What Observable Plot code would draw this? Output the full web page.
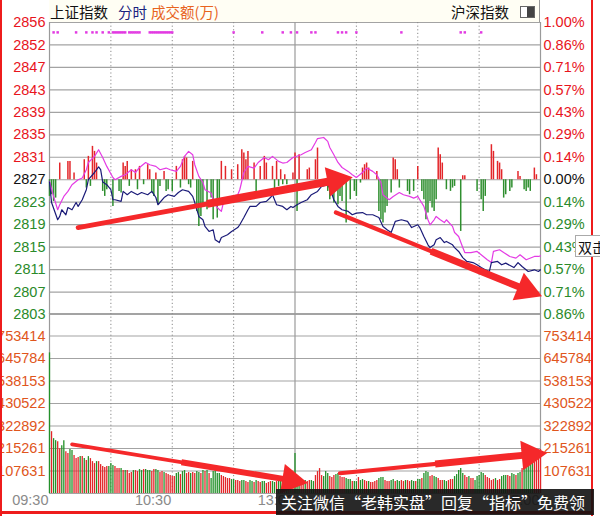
<!DOCTYPE html>
<html><head><meta charset="utf-8">
<script src="https://cdn.jsdelivr.net/npm/d3@7"></script>
<script src="https://cdn.jsdelivr.net/npm/@observablehq/plot@0.6"></script>
<style>
html,body{margin:0;padding:0;background:#fff;}
#wrap{position:relative;width:600px;height:516px;overflow:hidden;background:#fff;font-family:"Liberation Sans",Arial,sans-serif;}
#wrap svg{position:absolute;left:0;overflow:visible;}
.hd{position:absolute;top:3px;font:14.5px "Noto Sans CJK SC",sans-serif;line-height:18px;white-space:nowrap;}
</style></head><body><div id="wrap"></div>
<script>
// ---------- data ----------
const prevClose = 2827;
const stepPts = 4.04;
const priceTickLabels = ["2803","2807","2811","2815","2819","2823","2827","2831","2835","2839","2843","2847","2852","2856"];
const pctTickLabels = ["0.86%","0.71%","0.57%","0.43%","0.29%","0.14%","0.00%","0.14%","0.29%","0.43%","0.57%","0.71%","0.86%","1.00%"];
const volStep = 107631;
const volTickLabels = ["107631","215261","322892","430522","538153","645784","753414"];
const timeTickMinutes = [0, 60, 120, 180, 240];
const timeTickLabels = ["09:30", "10:30", "13:00", "14:00", "15:00"];
const dottedMinutes = [30, 60, 90, 150, 180, 210];
const solidMinutes = [0, 120, 240];

const blueMinutes = [0,1,4,5,6,8,9,11,13,14,16,18,19,22,24,25,26,28,30,31,32,35,36,38,40,43,45,48,50,52,53,56,58,61,63,65,68,70,71,73,75,76,78,80,81,83,84,87,89,92,93,95,97,98,101,103,106,108,109,111,114,116,118,119,121,123,126,128,131,133,136,137,139,141,143,146,148,150,153,155,158,161,163,165,167,169,172,175,177,180,181,183,185,186,188,189,191,193,194,197,198,200,202,204,207,209,211,213,215,216,219,221,223,227,229,231,234,237,239,240];
const blueValues = [2826.6,2822.9,2819.8,2820.4,2821.6,2820.7,2822.0,2821.6,2822.9,2822.2,2823.4,2825.2,2827.0,2828.3,2829.3,2828.8,2826.6,2826.1,2825.2,2823.4,2823.4,2823.1,2824.9,2824.3,2824.9,2824.3,2824.7,2824.3,2824.9,2823.8,2822.5,2823.8,2824.3,2824.0,2824.7,2825.2,2824.9,2824.0,2822.9,2820.4,2819.8,2818.6,2817.7,2818.0,2816.2,2815.7,2816.6,2817.1,2817.7,2818.4,2818.9,2820.2,2821.6,2822.2,2822.2,2822.9,2823.1,2823.8,2824.3,2822.5,2822.2,2821.6,2822.2,2822.0,2822.5,2822.9,2823.4,2824.3,2824.9,2825.8,2826.1,2825.5,2823.4,2822.2,2821.6,2821.3,2820.7,2821.0,2821.1,2820.7,2820.7,2820.2,2818.6,2818.0,2817.5,2819.5,2819.8,2819.5,2818.4,2818.9,2818.4,2816.8,2815.3,2814.8,2815.3,2816.2,2816.6,2815.7,2815.9,2815.3,2814.8,2814.1,2813.0,2812.3,2812.1,2811.7,2811.2,2810.8,2810.5,2812.1,2812.3,2811.7,2812.0,2811.2,2812.1,2811.4,2810.5,2810.8,2810.5,2810.8];

const magentaMinutes = [0,2,4,5,7,9,11,14,16,18,19,22,24,26,28,31,32,35,37,40,42,44,47,49,52,54,57,59,62,64,66,68,70,71,73,75,76,79,80,82,84,85,87,89,92,93,95,97,100,102,105,107,109,112,114,116,119,123,125,128,130,131,134,136,137,139,141,143,146,148,150,153,155,158,160,162,163,166,168,171,173,176,178,180,181,183,185,186,188,189,191,193,194,197,198,200,202,203,206,209,211,214,216,217,220,222,225,228,230,233,237,239,240];
const magentaValues = [2826.7,2824.0,2821.6,2822.5,2824.0,2824.9,2826.1,2827.0,2827.3,2828.8,2830.1,2831.2,2832.4,2831.0,2829.4,2827.4,2827.0,2827.6,2827.9,2828.8,2828.3,2829.2,2830.1,2829.7,2829.4,2828.8,2829.1,2828.8,2828.5,2829.4,2831.2,2832.1,2831.5,2829.7,2827.6,2826.5,2825.2,2824.6,2823.4,2822.0,2821.3,2822.9,2823.4,2824.0,2824.3,2825.2,2828.3,2829.4,2829.1,2830.1,2831.0,2830.6,2831.2,2830.3,2830.0,2830.1,2831.0,2831.5,2831.9,2832.4,2833.7,2834.4,2834.6,2833.9,2832.8,2831.5,2830.1,2829.2,2828.5,2827.9,2827.4,2828.3,2829.1,2828.5,2827.9,2826.5,2824.3,2823.4,2824.0,2824.7,2824.3,2824.0,2823.7,2824.0,2823.4,2822.2,2819.8,2818.9,2819.8,2820.4,2819.8,2819.3,2819.8,2818.6,2817.5,2816.8,2814.8,2813.9,2813.9,2814.1,2813.5,2812.6,2812.1,2814.1,2814.4,2813.9,2813.2,2812.9,2813.5,2812.6,2813.2,2813.2,2813.3];

const barMinutes = [0,1,2,3,5,9,10,12,17,18,19,20,21,22,23,26,27,28,31,34,35,36,37,38,39,40,42,43,44,46,48,49,50,51,52,53,54,56,57,58,60,62,64,65,66,67,68,69,70,72,73,74,75,77,79,80,82,83,84,86,89,92,94,95,96,97,100,101,103,105,106,109,110,111,112,113,114,115,116,119,120,121,122,126,127,130,131,136,137,139,141,142,143,145,147,149,150,152,153,154,155,156,160,161,162,163,164,165,167,168,169,170,171,175,176,178,180,182,183,184,185,186,187,188,189,190,191,192,194,196,197,198,201,202,203,209,211,212,213,216,217,219,220,221,222,223,225,226,229,230,232,233,234,235,237,238];
const barValues = [-3.0,-2.7,-3.9,-3.3,3.0,3.3,3.3,1.2,3.6,-1.5,4.2,-1.2,6.0,5.1,3.0,-2.1,-3.0,-1.8,-4.8,-2.1,-2.4,3.0,2.4,3.3,-1.2,1.8,1.8,-1.8,2.4,-0.9,2.7,1.8,-2.4,-3.0,1.2,-4.5,-1.2,1.5,-2.1,-1.8,-2.1,2.4,-1.5,3.6,4.2,3.9,-0.9,-1.5,3.3,-5.7,-8.4,-6.6,-4.5,-5.4,-3.3,-7.2,-6.9,-3.6,3.3,2.4,1.8,2.7,5.4,4.8,3.6,5.1,3.0,-2.1,2.4,4.2,3.0,2.4,-2.1,3.3,-1.2,1.8,-0.9,0.9,-0.9,1.2,4.8,-5.7,4.5,1.8,2.1,3.6,5.7,-2.1,-3.6,-4.2,-4.5,-3.0,-3.9,-7.8,-3.6,-2.1,-3.0,-0.6,2.1,2.7,3.0,2.1,1.5,-5.7,-7.2,-7.8,-6.0,-4.8,-2.4,3.9,3.6,1.8,-1.5,-2.1,-2.7,-2.1,2.4,-2.1,-3.6,-7.2,-6.0,-3.9,-5.1,-5.7,-3.6,5.7,4.5,3.0,-1.8,-2.1,-1.5,-1.2,-9.3,0.7,0.7,-2.1,-3.6,-5.7,-3.0,6.3,5.1,3.3,3.0,1.8,-3.3,-2.7,-2.1,-1.5,1.5,0.6,-1.8,-2.1,-1.5,-2.1,2.1,0.9];

const markerMinutes = [2,4,13,18,21,23,26,29,31,32,33,34,35,36,37,39,40,41,42,43,44,49,50,51,52,53,54,55,56,57,58,59,60,90,104,114,118,121,128,130,141,143,145,150,172,201,203,211];
const markerLevel = 2853.5;

const volumes = [672600,295700,262400,252800,248000,214600,229000,252800,200300,190800,
209900,205100,181300,166900,171700,176500,176500,166900,157400,176500,
166900,152600,143100,152600,152600,138300,128800,124000,128800,128800,
143100,133600,128800,119200,119200,119200,109700,109700,109700,95400,
100200,109700,109700,104900,114500,109700,114500,114500,109700,109700,
104900,114500,114500,109700,100200,104900,100200,95400,90600,85900,
81100,81100,95400,100200,90600,104900,109700,95400,100200,95400,
100200,95400,104900,100200,95400,109700,104900,109700,95400,71500,
104900,109700,95400,95400,85900,81100,76300,71500,71500,66800,
66800,62000,62000,57200,62000,62000,57200,52500,62000,57200,
52500,62000,57200,52500,57200,57200,47700,52500,57200,57200,
52500,57200,62000,62000,57200,52500,71500,57200,57200,62000,
190800,66800,71500,57200,57200,62000,57200,62000,62000,57200,
85900,104900,119200,85900,81100,104900,95400,81100,76300,85900,
90600,95400,81100,76300,76300,71500,66800,66800,57200,57200,
57200,76300,62000,66800,62000,57200,57200,52500,52500,57200,
62000,71500,76300,76300,62000,57200,57200,62000,66800,57200,
62000,57200,62000,57200,62000,62000,57200,62000,57200,57200,
66800,66800,71500,95400,104900,100200,81100,85900,81100,76300,
71500,62000,62000,62000,57200,62000,66800,66800,81100,90600,
109700,119200,95400,85900,76300,81100,71500,71500,62000,81100,
85900,100200,95400,85900,76300,71500,62000,66800,71500,62000,
66800,81100,85900,85900,85900,81100,95400,90600,85900,95400,
100200,119200,128800,133600,143100,152600,162200,181300,190800,200300,
209900];
const volumeUpDown = "grggrrggrr" + "ggrrrgrgrg" + "rrrgrrrrrg" + "ggrrrgrgrr" + "rgrrggrggg" +
  "rrggrrgrrr" + "rrggrggrrg" + "rrggrgrgrg" + "ggggrrrrrg" + "grrrggrrgg" +
  "rgrrggrrrg" + "grggrrgrgr" + "gggrrgrrgg" + "rrrrgggrrr" + "ggrrrgggrg" +
  "grggrrgrrr" + "rgggrrrggr" + "ggrrgrrggr" + "ggrgggrrgg" + "rrrggrrrgg" +
  "gggrrgrrgg" + "gggrrrrrgr" + "rgggrrggrg" + "grgggggrrr" + "r";

// hand-drawn annotation arrows: [start minute, start value, end minute, end value]
const priceArrowStartMinutes = [14, 140];
const priceArrowStartValues = [2818.4, 2821.1];
const priceArrowEndMinutes = [140, 233];
const priceArrowEndValues = [2826.9, 2807.2];
const volArrowStartMinutes = [11, 142];
const volArrowStartValues = [235000, 97000];
const volArrowEndMinutes = [118, 235];
const volArrowEndValues = [64000, 186000];

// ---------- styles ----------
const RED = "#e8141c", GREEN = "#2a8a2a", BLACK = "#111", ORANGE = "#e0561c";
const ARROW = "#f5282a";
const FONT = '"Liberation Sans", Arial, sans-serif';
const W = 600, ML = 49, MR = 60;
const PRICE_TOP = 22, PRICE_H = 314;
const VOL_TOP = 313, VOL_H = 203, VOL_MB = 23;

const wrap = document.getElementById("wrap");

const xDomain = [0, 240];
const yDomain = [prevClose - 6 * stepPts, prevClose + 7 * stepPts];
const vDomain = [0, 8 * volStep];

const priceTicks = priceTickLabels.map((t, i) => ({k: i - 6, v: prevClose + (i - 6) * stepPts, left: t, right: pctTickLabels[i]}));
const signColor = k => k > 0 ? RED : k < 0 ? GREEN : BLACK;
const blue = blueMinutes.map((m, i) => ({m, v: blueValues[i]}));
const magenta = magentaMinutes.map((m, i) => ({m, v: magentaValues[i]}));
const bars = barMinutes.map((m, i) => ({m, v: barValues[i]}));
const markers = markerMinutes.map(m => ({m, v: markerLevel}));
const vols = volumes.map((v, i) => ({m: i, v, up: volumeUpDown.charAt(i) === "r"}));
const volTicks = volTickLabels.map((t, i) => ({v: (i + 1) * volStep, label: t}));
const timeTicks = timeTickMinutes.map((m, i) => ({m, label: timeTickLabels[i]}));

function arrowMarks(sm, sv, em, ev, yd, yr, widths) {
  const xs = d3.scaleLinear(xDomain, [ML, W - MR]);
  const ys = d3.scaleLinear(yd, yr);
  const arr = sm.map((m, i) => {
    const a = {x1: m, y1: sv[i], x2: em[i], y2: ev[i], w: widths[i]};
    a.xm = (a.x1 + a.x2) / 2; a.ym = (a.y1 + a.y2) / 2;
    const dx = xs(a.x2) - xs(a.x1), dy = ys(a.y2) - ys(a.y1);
    a.rot = Math.atan2(dx, -dy) * 180 / Math.PI;
    return a;
  });
  return [
    Plot.link(arr, {x1: "x1", y1: "y1", x2: "x2", y2: "y2", stroke: ARROW, strokeWidth: d => d.w * 0.6, strokeLinecap: "round"}),
    Plot.link(arr, {x1: "xm", y1: "ym", x2: "x2", y2: "y2", stroke: ARROW, strokeWidth: d => d.w}),
    Plot.dot(arr, {x: "x2", y: "y2", symbol: "triangle", r: 11, fill: ARROW, stroke: "none", rotate: "rot"})
  ];
}

// ---------- price panel ----------
const price = Plot.plot({
  width: W, height: PRICE_H, marginTop: PRICE_TOP, marginBottom: 0, marginLeft: ML, marginRight: MR,
  x: {domain: xDomain, axis: null},
  y: {domain: yDomain, axis: null},
  color: {type: "identity"},
  style: {background: "transparent", fontFamily: FONT, overflow: "visible"},
  marks: [
    Plot.ruleY(priceTicks, {y: "v", stroke: "#a3a3a3", strokeWidth: 1.2}),
    Plot.ruleX(dottedMinutes, {stroke: "#8a8a8a", strokeDasharray: "1.2,2.4"}),
    Plot.ruleX(solidMinutes, {stroke: "#9a9a9a", strokeWidth: 1.2}),
    Plot.ruleX(bars, {x: "m", y1: () => prevClose, y2: d => prevClose + d.v, stroke: d => d.v > 0 ? "#e3262a" : "#2f8f2f", strokeWidth: 1.5}),
    Plot.line(magenta, {x: "m", y: "v", stroke: "#e43be4", strokeWidth: 1.2}),
    Plot.line(blue, {x: "m", y: "v", stroke: "#1a1a78", strokeWidth: 1.2}),
    Plot.dot(markers, {x: "m", y: "v", symbol: "square", r: 1.4, fill: "#e23ae2", stroke: "none"}),
    Plot.text(priceTicks, {y: "v", text: "left", frameAnchor: "left", dx: -4, textAnchor: "end", fill: d => signColor(d.k), fontSize: 14.5}),
    Plot.text(priceTicks, {y: "v", text: "right", frameAnchor: "right", dx: 3, textAnchor: "start", fill: d => signColor(d.k), fontSize: 14.5}),
    ...arrowMarks(priceArrowStartMinutes, priceArrowStartValues, priceArrowEndMinutes, priceArrowEndValues, yDomain, [PRICE_H, PRICE_TOP], [8, 7])
  ]
});
price.style.top = "0px";

// ---------- volume panel ----------
const volume = Plot.plot({
  width: W, height: VOL_H, marginTop: 0, marginBottom: VOL_MB, marginLeft: ML, marginRight: MR,
  x: {domain: xDomain, axis: null},
  y: {domain: vDomain, axis: null},
  color: {type: "identity"},
  style: {background: "transparent", fontFamily: FONT, overflow: "visible"},
  marks: [
    Plot.ruleY(volTicks, {y: "v", stroke: "#a3a3a3", strokeWidth: 1.2}),
    Plot.ruleY(vDomain, {stroke: "#a3a3a3", strokeWidth: 1.2}),
    Plot.ruleX(dottedMinutes, {stroke: "#8a8a8a", strokeDasharray: "1.2,2.4"}),
    Plot.ruleX(solidMinutes, {stroke: "#9a9a9a", strokeWidth: 1.2}),
    Plot.ruleX(vols, {x: "m", y1: () => 0, y2: "v", stroke: d => d.up ? "#e3262a" : "#23912a", strokeWidth: 1.3}),
    Plot.text(volTicks, {y: "v", text: "label", frameAnchor: "left", dx: -4, textAnchor: "end", fill: ORANGE, fontSize: 14.5}),
    Plot.text(volTicks, {y: "v", text: "label", frameAnchor: "right", dx: 3, textAnchor: "start", fill: ORANGE, fontSize: 14.5}),
    Plot.text(timeTicks, {x: "m", text: "label", frameAnchor: "bottom", dy: 11, dx: -1, textAnchor: "end", fill: "#8a8a8a", fontSize: 14.5}),
    ...arrowMarks(volArrowStartMinutes, volArrowStartValues, volArrowEndMinutes, volArrowEndValues, vDomain, [VOL_H - VOL_MB, 0], [6, 7])
  ]
});
volume.style.top = VOL_TOP + "px";

// header band
const band = document.createElement("div");
band.style.cssText = "position:absolute;left:49px;top:0;width:491px;height:22px;background:#fffef4;border-right:1px solid #9a9a9a;box-sizing:border-box;";
wrap.appendChild(band);
wrap.appendChild(price);
wrap.appendChild(volume);

function addText(txt, left, color) {
  const d = document.createElement("div");
  d.className = "hd"; d.textContent = txt; d.style.left = left + "px"; d.style.color = color;
  wrap.appendChild(d);
}
addText("上证指数", 50, "#111");
addText("分时", 118, "#1a237e");
addText("成交额(万)", 151, "#e8641e");
addText("沪深指数", 451, "#111");
const icon = document.createElement("div");
icon.style.cssText = "position:absolute;left:520px;top:6px;width:13px;height:10px;border:1px solid #666;background:linear-gradient(90deg,#fff 0 50%,#444 50% 100%);";
wrap.appendChild(icon);

// frame of the screenshot
const mk = css => { const d = document.createElement("div"); d.style.cssText = "position:absolute;" + css; wrap.appendChild(d); return d; };
mk("left:0;top:0;width:2px;height:516px;background:#ee1c1c;");
mk("left:591px;top:0;width:2px;height:516px;background:#ee1c1c;");
mk("left:0;top:511px;width:593px;height:3px;background:#ee1c1c;");

// tooltip stub
const tip = mk("left:575px;top:235px;width:32px;height:22px;border:1px solid #aaa;background:#fff;font:14px 'Noto Sans CJK SC',sans-serif;line-height:22px;padding-left:2px;color:#111;white-space:nowrap;overflow:hidden;box-sizing:border-box;");
tip.textContent = "双击";

// watermark banner
const banner = mk("left:276px;top:489px;width:318px;height:26px;background:rgba(18,18,18,0.9);color:#fff;font:16px 'Noto Sans CJK SC',sans-serif;line-height:26px;padding-left:5px;white-space:nowrap;overflow:hidden;box-sizing:border-box;");
banner.textContent = "关注微信“老韩实盘”回复“指标”免费领";
</script></body></html>
